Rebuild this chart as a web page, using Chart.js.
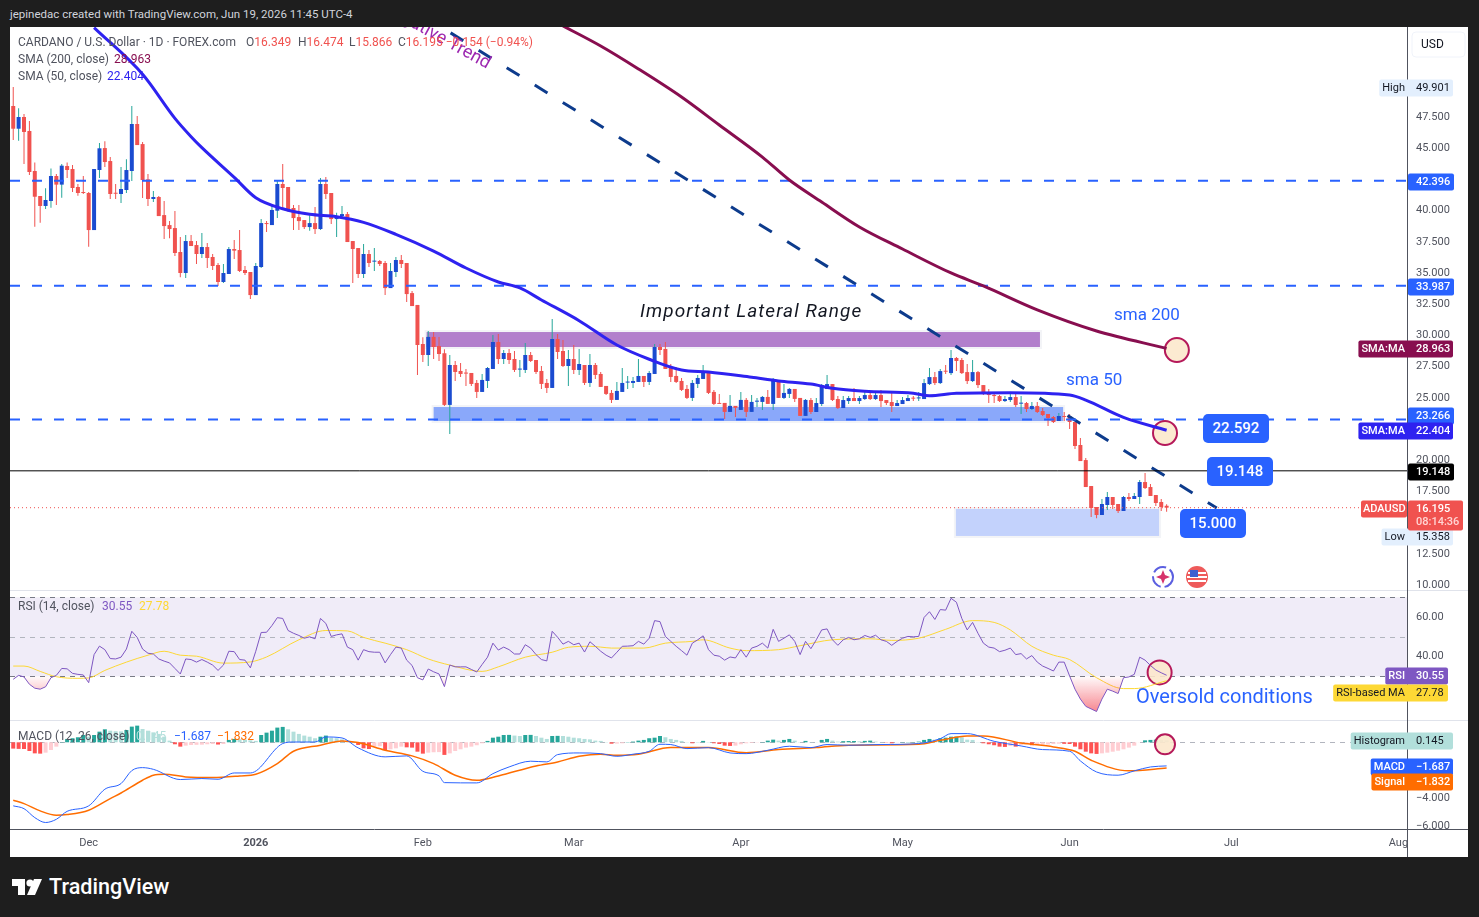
<!DOCTYPE html>
<html>
<head>
<meta charset="utf-8">
<title>ADAUSD</title>
<script src="https://cdn.jsdelivr.net/npm/chart.js@4"></script>
<style>
html, body { margin: 0; padding: 0; background: #1e1e1e; width: 1479px; height: 917px; overflow: hidden; font-family: Roboto, sans-serif; }
#panel { position: absolute; left: 10px; top: 27px; width: 1458px; height: 830px; background: #fff; }
#chart { position: absolute; left: 0; top: 0; }
.t { position: absolute; white-space: nowrap; line-height: 16px; font-size: 12px; color: #50535e; }
.note { position: absolute; white-space: nowrap; color: #2962ff; line-height: 24px; }
.badge { position: absolute; width: 66px; height: 29px; line-height: 29px; border-radius: 5px; background: #2962ff; color: #fff; font-size: 15px; font-weight: 500; text-align: center; }
.red { color: #f0524f; }
</style>
</head>
<body>
<div class="t" style="left:10px;top:6px;color:#d1d4dc;font-size:11.5px">jepinedac created with TradingView.com, Jun 19, 2026 11:45 UTC-4</div>
<div id="panel"><canvas id="chart" width="1458" height="830"></canvas></div>

<div class="t" style="left:18px;top:34px">CARDANO / U.S. Dollar · 1D · FOREX.com</div>
<div class="t" style="left:246px;top:34px">O<span class="red">16.349</span></div>
<div class="t" style="left:298px;top:34px">H<span class="red">16.474</span></div>
<div class="t" style="left:349px;top:34px">L<span class="red">15.866</span></div>
<div class="t" style="left:398px;top:34px">C<span class="red">16.195</span> <span class="red">−0.154 (−0.94%)</span></div>
<div class="t" style="left:18px;top:51px">SMA (200, close)</div>
<div class="t" style="left:114px;top:51px;color:#880e4f">28.963</div>
<div class="t" style="left:18px;top:68px">SMA (50, close)</div>
<div class="t" style="left:107px;top:68px;color:#2e22f0">22.404</div>
<div class="t" style="left:18px;top:598px">RSI (14, close)</div>
<div class="t" style="left:102px;top:598px;color:#7e57c2">30.55</div>
<div class="t" style="left:139px;top:598px;color:#fdd835">27.78</div>
<div class="t" style="left:18px;top:728px">MACD (12, 26, close)</div>
<div class="t" style="left:136px;top:728px;color:#b2dfdb">0.145</div>
<div class="t" style="left:174px;top:728px;color:#2962ff">−1.687</div>
<div class="t" style="left:217px;top:728px;color:#ff6d00">−1.832</div>

<div class="note" style="left:640px;top:299px;font-size:19px;font-style:italic;color:#131722;letter-spacing:1.05px">Important Lateral Range</div>
<div class="note" style="left:1114px;top:302px;font-size:17px">sma 200</div>
<div class="note" style="left:1066px;top:367px;font-size:17px">sma 50</div>
<div class="note" style="left:1136px;top:684px;font-size:20px">Oversold conditions</div>
<div class="badge" style="left:1203px;top:414px">22.592</div>
<div class="badge" style="left:1207px;top:457px">19.148</div>
<div class="badge" style="left:1180px;top:509px">15.000</div>

<svg style="position:absolute;left:1150px;top:564px" width="62" height="26">
  <circle cx="13" cy="13" r="10" fill="#fff" stroke="#5b5fe0" stroke-width="2" stroke-dasharray="14 4"/>
  <path d="M13 6l2 5 5 2-5 2-2 5-2-5-5-2 5-2z" fill="#d6336c"/>
  <circle cx="47" cy="13" r="11" fill="#ee5a5a"/>
  <path d="M38 9h18M37 13h20M38 17h18" stroke="#fff" stroke-width="2"/>
  <rect x="40" y="6" width="8" height="7" fill="#3d5fd0"/>
</svg>

<svg style="position:absolute;left:12px;top:879px" width="32" height="17">
  <path d="M0 0h13v16H6V7H0zM23 16l7-16h-8l-7 16z" fill="#fff"/><circle cx="18" cy="4" r="3.6" fill="#fff"/>
</svg>
<div class="t" style="left:49px;top:875px;line-height:24px;font-size:21.6px;font-weight:500;color:#fff">TradingView</div>

<script>
// ADAUSD daily candles, day 0 is Nov 17 2025
const opens = [
  48.38,46.56,47.50,46.38,43.17,41.17,40.37,40.77,42.77,42.08,
  43.57,43.33,41.89,41.49,41.41,38.44,43.25,45.01,43.97,41.41,
  41.33,41.65,43.17,46.94,45.33,42.50,40.93,41.09,39.64,38.84,
  38.60,36.68,35.00,37.56,37.24,36.52,37.08,36.28,35.64,34.28,
  34.92,36.92,36.84,35.24,35.08,33.23,35.48,39.00,38.84,39.99,
  42.13,41.89,40.21,39.48,39.24,38.68,39.00,38.52,42.13,41.41,
  39.32,39.56,39.72,37.56,37.00,34.92,36.52,35.91,35.96,35.80,
  33.79,35.08,36.04,35.80,33.39,32.44,29.31,28.43,29.88,29.15,
  28.57,24.43,27.63,27.15,26.99,26.99,26.19,25.47,26.35,27.31,
  29.47,28.11,28.59,28.11,27.26,27.23,28.43,28.03,27.15,26.19,
  25.79,29.71,28.75,27.55,28.11,27.23,27.63,26.19,27.63,26.91,
  25.95,25.39,24.83,25.47,26.22,26.19,26.27,26.75,26.27,26.91,
  29.07,28.91,27.39,26.75,26.35,25.71,24.99,26.11,26.51,27.07,
  25.47,24.56,24.59,23.87,24.35,24.03,24.83,23.87,24.69,24.67,
  25.07,24.51,26.35,24.99,25.31,25.71,24.99,23.55,24.82,23.86,
  24.50,25.70,26.10,24.90,24.18,24.74,24.98,24.74,24.90,25.22,
  24.90,25.22,24.82,24.66,24.34,24.50,24.74,24.98,24.95,24.90,
  26.10,26.66,26.18,27.14,26.98,28.19,28.03,27.06,26.34,27.06,
  26.02,25.46,25.22,25.14,24.74,24.82,25.06,24.53,24.58,24.10,
  24.34,23.94,23.70,23.46,23.14,23.51,23.54,23.06,21.22,20.01,
  17.93,16.25,15.61,16.41,17.05,16.49,15.93,17.05,16.89,17.05,
  18.25,17.85,17.21,16.65,16.349
];
const closes = [
  46.56,47.50,46.30,43.09,41.11,40.37,40.85,42.77,42.08,43.60,
  43.25,41.81,41.41,41.41,38.44,43.33,44.99,43.89,41.33,41.35,
  41.73,43.25,46.94,45.25,42.45,40.93,41.09,39.56,38.76,38.52,
  36.60,35.00,37.56,37.16,36.52,37.08,36.20,35.56,34.28,35.00,
  36.92,36.79,35.16,35.00,33.23,35.56,39.00,38.92,40.05,42.13,
  41.81,40.05,39.40,39.16,38.68,39.00,38.52,42.13,41.33,39.32,
  39.56,39.72,37.48,36.92,34.92,36.52,35.80,35.96,35.72,33.79,
  35.16,36.04,35.72,33.31,32.35,29.23,28.43,29.88,29.07,28.51,
  24.43,27.63,27.07,26.91,26.94,26.11,25.47,26.43,27.39,29.47,
  28.11,28.59,28.03,27.23,27.31,28.43,27.95,27.07,26.11,25.79,
  29.71,28.67,27.55,28.11,27.23,27.71,26.19,27.63,26.83,25.87,
  25.31,24.83,25.55,26.19,26.27,26.35,26.75,26.27,26.99,29.07,
  28.83,27.31,26.67,26.27,25.63,24.99,26.19,26.59,27.07,25.39,
  24.51,24.51,23.87,24.35,24.19,24.83,23.87,24.67,24.75,25.07,
  24.51,26.43,24.99,25.39,25.71,24.91,23.55,24.83,23.86,24.58,
  26.02,26.10,24.82,24.18,24.82,24.98,24.74,24.98,25.22,24.90,
  25.22,24.74,24.58,24.34,24.58,24.82,24.98,24.93,25.01,26.18,
  26.66,26.18,27.14,27.09,28.19,27.95,26.98,26.34,27.06,26.02,
  25.30,25.22,25.14,24.74,24.90,25.06,24.42,24.58,24.10,24.34,
  23.86,23.62,23.38,23.06,23.54,23.46,23.06,21.14,19.93,17.85,
  16.17,15.61,16.49,17.05,16.41,15.93,17.05,16.89,17.13,18.25,
  17.77,17.13,16.57,16.25,16.195
];
const highs = [
  49.90,48.19,47.74,47.18,43.86,41.17,41.78,43.38,42.93,43.73,
  43.86,43.65,42.13,42.77,41.49,43.33,45.41,45.55,44.29,42.13,
  43.49,44.11,48.38,47.58,45.49,42.93,41.57,41.17,40.77,39.16,
  39.97,37.88,38.04,38.04,37.56,38.20,37.40,36.52,35.80,35.72,
  37.08,37.64,38.44,35.56,35.08,35.80,39.32,39.16,40.53,42.45,
  43.73,41.89,40.45,40.45,39.24,39.62,40.29,42.61,42.69,41.41,
  39.83,40.37,39.89,37.56,37.00,37.32,36.84,37.00,36.04,35.96,
  35.80,36.28,36.44,35.80,33.55,32.44,29.85,30.36,30.28,29.88,
  28.89,28.43,27.95,27.79,27.31,26.99,26.43,26.91,27.47,30.04,
  30.12,28.83,28.91,28.75,28.03,29.39,28.67,28.03,27.55,26.51,
  31.32,30.12,29.63,28.83,29.23,28.91,27.63,28.51,27.79,27.07,
  25.95,25.63,26.27,27.39,26.75,26.67,28.11,26.75,27.15,29.31,
  29.31,29.47,27.71,27.47,26.59,26.03,26.43,26.83,27.63,27.15,
  25.63,25.31,24.59,25.23,24.35,25.47,24.99,25.23,24.99,25.15,
  25.63,26.59,26.43,26.11,25.79,25.71,24.99,24.91,24.98,24.98,
  26.10,26.82,26.10,25.14,25.14,25.14,25.78,25.14,25.46,25.38,
  25.38,25.62,24.82,25.46,24.82,25.06,25.22,25.14,25.46,26.50,
  27.38,27.06,27.30,27.62,28.83,28.27,28.19,27.71,28.03,27.14,
  26.02,25.70,25.30,25.22,25.14,25.30,25.38,25.14,24.66,24.66,
  24.66,24.18,23.70,23.54,23.78,23.86,23.70,23.06,21.78,20.17,
  17.93,16.25,16.89,17.45,17.05,16.49,17.13,17.37,17.37,18.41,
  18.97,18.09,17.21,16.89,16.474
];
const lows = [
  45.65,45.60,43.73,42.85,38.71,39.03,40.13,40.23,40.45,41.03,
  42.61,41.49,41.19,41.33,37.11,38.44,42.61,43.49,40.93,40.93,
  40.61,41.41,42.37,45.25,41.01,40.37,40.69,39.56,37.72,37.78,
  36.36,34.65,34.60,37.16,35.72,36.20,35.40,35.24,33.96,34.20,
  34.92,36.12,35.08,34.84,32.91,33.23,35.40,38.28,38.84,39.40,
  40.05,39.89,38.44,38.44,38.52,38.39,38.12,38.44,40.93,38.92,
  37.88,39.32,37.48,34.20,34.60,34.60,35.48,35.16,35.56,33.23,
  33.79,34.68,35.40,32.67,32.35,26.83,27.87,27.55,28.11,27.95,
  24.35,22.10,26.35,26.67,25.95,25.95,24.99,25.47,25.79,27.31,
  27.71,27.71,27.71,27.07,26.67,26.99,27.87,26.91,25.71,25.39,
  25.79,28.11,27.47,25.95,26.91,26.83,26.03,25.87,26.51,25.87,
  25.23,24.59,24.83,25.47,25.71,25.79,26.27,25.87,26.03,26.91,
  28.43,27.31,26.27,26.19,25.55,24.91,24.75,25.79,26.51,25.31,
  24.43,24.51,23.30,23.87,23.47,24.03,23.47,23.87,24.27,24.03,
  24.51,24.03,24.99,24.91,24.99,24.67,23.55,23.55,23.70,23.86,
  24.34,25.70,24.74,24.10,24.18,24.50,24.74,24.50,24.82,24.82,
  24.82,24.26,24.42,23.86,24.34,24.50,24.74,24.74,24.74,24.90,
  26.02,26.02,26.10,26.90,26.82,27.14,26.90,26.10,26.26,25.78,
  25.22,24.58,24.58,24.66,24.66,24.66,24.26,23.70,23.86,24.02,
  23.78,23.54,22.74,22.98,23.14,23.14,22.50,20.90,19.93,17.85,
  15.45,15.358,15.61,16.01,16.09,15.77,15.93,16.73,16.89,16.49,
  17.69,17.13,16.33,15.93,15.866
];

const sma200Days = [102,109,116,124,131,139,144,150,157,165,174,180,190,201,214];
const sma200Values = [54.8,53.19,51.35,49.10,46.86,44.29,42.45,40.69,38.69,36.92,35.00,33.96,32.04,30.35,28.963];
const sma50Days = [15,24,30,33,35,41,45,50,55,60,65,71,78,84,90,94,98,105,112,118,124,129,137,142,148,152,158,167,170,175,185,196,199,206,214];
const sma50Values = [54.66,50.92,47.39,45.92,45.04,42.66,41.03,40.15,39.70,39.51,39.06,38.10,36.76,35.40,34.28,33.80,32.84,31.18,29.23,28.09,27.23,27.07,26.64,26.35,26.1,25.76,25.52,25.36,25.17,25.36,25.41,25.22,24.82,23.43,22.404];

const rsiValues = [
  28.5,30.5,29.7,26.0,24.0,23.5,24.7,29.3,30.5,34.0,
  33.8,31.5,31.0,30.7,26.8,41.0,45.3,43.5,39.0,38.8,
  39.7,43.8,52.8,49.7,43.8,41.7,41.3,38.8,37.7,36.8,
  34.0,31.2,38.8,38.5,37.2,38.5,37.2,35.7,33.0,35.7,
  42.7,42.5,38.5,38.2,34.3,42.7,52.2,52.3,55.7,59.7,
  59.3,53.2,51.8,50.7,49.3,50.0,49.0,59.3,56.8,50.2,
  51.0,51.5,44.8,43.5,38.2,43.5,42.5,42.2,42.2,36.8,
  41.0,44.8,44.3,38.2,35.5,29.3,28.2,33.7,32.3,31.2,
  24.8,35.7,34.8,34.8,34.8,33.5,32.2,36.0,39.7,46.8,
  43.3,44.8,43.5,41.3,41.3,46.0,44.3,41.0,38.5,37.8,
  52.8,49.8,46.3,47.7,46.0,46.8,42.3,47.5,45.2,42.7,
  40.7,39.3,42.2,45.2,45.3,45.5,47.7,46.3,49.3,58.2,
  57.7,50.2,47.7,45.2,43.0,40.7,46.8,48.5,50.5,43.5,
  40.7,40.2,38.2,39.8,39.3,43.5,39.7,44.3,45.2,46.8,
  44.3,53.8,47.7,49.3,51.0,47.7,41.0,47.7,44.0,48.5,
  53.5,54.0,48.5,45.7,48.5,49.7,48.5,49.0,50.7,49.7,
  50.8,48.5,47.7,45.7,47.7,49.3,50.2,50.0,50.2,59.8,
  62.7,58.8,63.8,63.5,69.5,67.5,59.3,53.5,57.3,51.8,
  46.8,44.8,44.3,42.5,43.2,44.3,41.0,41.5,38.8,40.5,
  37.2,35.2,34.0,32.7,37.2,37.2,30.2,23.5,18.5,14.8,
  13.5,12.2,18.5,23.5,22.5,21.3,29.3,29.7,31.0,39.7,
  38.2,35.5,33.2,31.8,30.55
];
const rsiMaDays = [0,2,5,8,12,14,17,21,25,28,31,34,39,44,47,53,58,62,65,69,73,77,81,87,90,95,100,103,107,109,111,115,117,121,126,128,133,136,142,146,152,159,163,168,173,178,182,185,189,193,196,201,206,208,214];
const rsiMaValues = [35.2,35.2,32.5,29.8,29.0,29.2,33.0,37.2,40.7,42.7,40.7,40.2,36.7,37.3,39.8,48.5,53.2,53.0,49.7,46.8,43.5,38.8,35.7,32.5,34.8,39.7,42.2,44.7,45.2,44.8,44.3,44.3,44.3,46.8,47.7,48.5,44.3,43.0,43.5,45.5,48.5,49.0,48.2,49.3,53.8,58.2,57.3,53.5,45.2,40.7,38.5,29.3,23.8,23.8,27.78];

const macdDays = [0,2,4,6,8,10,14,17,20,22,24,26,31,35,38,41,44,50,52,56,58,61,64,69,73,76,79,80,86,89,92,96,99,101,105,109,112,115,118,120,122,125,129,133,136,140,144,148,151,155,161,168,172,174,177,182,187,191,196,198,201,205,208,211,214];
const macdValues = [-4.54,-4.74,-5.38,-5.73,-5.50,-4.93,-4.54,-3.35,-2.95,-2.02,-1.81,-1.93,-2.66,-2.59,-2.64,-2.19,-2.19,-0.09,0.02,0.02,0.38,0.31,-0.40,-1.04,-0.97,-2.07,-2.40,-2.88,-2.90,-2.24,-1.76,-1.35,-1.40,-0.88,-0.76,-0.81,-1.00,-0.85,-0.64,-0.14,-0.16,-0.45,-0.38,-0.76,-0.81,-0.57,-0.28,-0.38,-0.16,-0.21,-0.16,-0.09,0.26,0.62,0.62,0.07,-0.26,-0.52,-0.64,-1.33,-2.12,-2.35,-2.04,-1.76,-1.687];
const signalDays = [0,2,5,8,10,14,18,20,24,26,28,32,37,42,45,49,52,57,61,64,69,74,78,82,86,90,97,101,105,109,112,116,122,129,136,142,149,155,168,172,177,180,187,193,197,200,207,214];
const signalValues = [-4.14,-4.38,-4.90,-5.21,-5.16,-4.85,-4.02,-3.62,-2.71,-2.35,-2.28,-2.47,-2.52,-2.40,-2.28,-1.52,-0.64,-0.21,0.10,-0.02,-0.57,-0.97,-1.52,-2.35,-2.71,-2.40,-1.69,-1.40,-1.00,-0.85,-0.93,-0.85,-0.38,-0.38,-0.74,-0.52,-0.38,-0.21,-0.14,0.14,0.45,0.45,-0.05,-0.33,-0.64,-1.28,-2.04,-1.832];
const histValues = [
  -0.45,-0.47,-0.48,-0.62,-0.79,-0.81,-0.74,-0.55,-0.31,0.02,
  0.24,0.29,0.36,0.52,0.40,0.52,0.76,0.93,0.83,0.79,
  0.78,0.88,1.12,1.19,0.95,0.83,0.71,0.60,0.40,0.12,
  -0.14,-0.31,-0.24,-0.19,-0.18,-0.17,-0.14,-0.12,-0.16,-0.12,
  0.17,0.24,0.22,0.18,0.14,0.10,0.52,0.69,0.83,1.05,
  1.10,0.93,0.76,0.60,0.48,0.40,0.29,0.40,0.48,0.33,
  0.29,0.21,0.12,0.02,-0.19,-0.43,-0.48,-0.31,-0.28,-0.55,
  -0.50,-0.43,-0.31,-0.36,-0.38,-0.67,-0.81,-0.74,-0.71,-0.70,
  -0.90,-0.79,-0.62,-0.50,-0.38,-0.31,-0.21,-0.07,0.10,0.33,
  0.40,0.52,0.53,0.48,0.45,0.52,0.53,0.45,0.33,0.24,
  0.45,0.46,0.45,0.40,0.33,0.29,0.24,0.21,0.12,0.10,
  0.02,-0.10,-0.09,-0.07,0.02,0.05,0.12,0.17,0.29,0.33,
  0.45,0.36,0.24,0.17,0.10,0.02,-0.07,0.01,0.10,0.02,
  -0.07,-0.12,-0.24,-0.26,-0.24,-0.14,-0.07,-0.05,-0.02,0.02,
  0.12,0.19,0.12,0.17,0.24,0.12,0.02,0.10,0.02,0.01,
  0.17,0.24,0.12,0.05,0.08,0.09,0.09,0.07,0.10,0.12,
  0.05,0.01,-0.02,-0.07,-0.02,0.02,0.02,0.02,0.05,0.17,
  0.24,0.19,0.29,0.33,0.40,0.41,0.36,0.19,0.17,0.02,
  -0.07,-0.14,-0.21,-0.31,-0.33,-0.26,-0.31,-0.19,-0.14,-0.21,
  -0.19,-0.17,-0.16,-0.12,-0.10,-0.11,-0.12,-0.31,-0.50,-0.67,
  -0.79,-0.83,-0.79,-0.74,-0.67,-0.60,-0.50,-0.38,-0.24,-0.01,
  0.14,0.17,0.19,0.17,0.145
];

const monthDays = [14,45,76,104,135,165,196,226,257];
const monthLabels = ['Dec','2026','Feb','Mar','Apr','May','Jun','Jul','Aug'];
const priceTicks = [47.5,45,40,37.5,35,32.5,30,27.5,25,20,17.5,12.5,10];
const rsiTicks = [60,40];
const macdTicks = [-4,-6];

const blueLevels = [42.396,33.987,23.266];
const lastClose = 16.195, crossLevel = 19.148;
const trendDays = [77.3,223.3];
const trendValues = [55.27,16.17];
const zones = [
  {from:76.7, to:190.5, top:30.27, bottom:29.07, color:'#b27fcc'},
  {from:78, to:194.8, top:24.26, bottom:23.14, color:'#8aa8fa'},
  {from:174.9, to:212.6, top:16.09, bottom:13.93, color:'#c3d2fc'}
];
const priceMarkers = [{x:215.9,y:28.83},{x:213.7,y:22.18}];
const rsiMarker = [{x:212.7,y:32}];
const macdMarker = [{x:213.7,y:-0.14}];

const priceTags = [
  {axis:'y', value:49.901, label:'High', text:'49.901', bg:'#e3effd', fg:'#131722'},
  {axis:'y', value:42.396, text:'42.396', bg:'#2962ff', fg:'#fff'},
  {axis:'y', value:33.987, text:'33.987', bg:'#2962ff', fg:'#fff'},
  {axis:'y', value:28.963, label:'SMA:MA', text:'28.963', bg:'#880e4f', fg:'#fff'},
  {axis:'y', value:23.266, nudge:-4, text:'23.266', bg:'#2962ff', fg:'#fff'},
  {axis:'y', value:22.404, label:'SMA:MA', text:'22.404', bg:'#2e22f0', fg:'#fff'},
  {axis:'y', value:19.148, text:'19.148', bg:'#000', fg:'#fff'},
  {axis:'y', value:15.358, nudge:18, label:'Low', text:'15.358', bg:'#e3effd', fg:'#131722'},
  {axis:'yRsi', value:30.55, label:'RSI', text:'30.55', bg:'#7e57c2', fg:'#fff', w:41},
  {axis:'yRsi', value:27.78, nudge:11, label:'RSI-based MA', text:'27.78', bg:'#fdd835', fg:'#131722', w:41},
  {axis:'yMacd', value:0.145, label:'Histogram', text:'0.145', bg:'#b2dfdb', fg:'#131722'},
  {axis:'yMacd', value:-1.687, label:'MACD', text:'−1.687', bg:'#2962ff', fg:'#fff'},
  {axis:'yMacd', value:-1.832, nudge:13, label:'Signal', text:'−1.832', bg:'#ff6d00', fg:'#fff'}
];

const days = opens.map((o, i) => i);
const pts = (xs, ys) => xs.map((x, i) => ({x: x, y: ys[i]}));
const UP = '#1a4bd0', DOWN = '#f0524f', WICK_UP = '#26a69a';
const X_MIN = -0.6, X_MAX = 258.6;

const canvas = document.getElementById('chart');
const cx = canvas.getContext('2d');
const oversold = cx.createLinearGradient(0, 650, 0, 688);
oversold.addColorStop(0, 'rgba(242,54,69,0.03)');
oversold.addColorStop(1, 'rgba(242,54,69,0.65)');

function level(value, color, width, dash) {
  return {type:'line', data:pts([X_MIN, X_MAX], [value, value]), borderColor:color, borderWidth:width, borderDash:dash, pointRadius:0, order:2};
}
function curve(xs, ys, axis, color, width, order) {
  return {type:'line', data:pts(xs, ys), yAxisID:axis, borderColor:color, borderWidth:width, pointRadius:0, cubicInterpolationMode:'monotone', order:order};
}
function marker(data, axis, radius) {
  return {type:'scatter', data:data, yAxisID:axis, pointRadius:radius, pointBackgroundColor:'rgba(252,232,204,0.9)', pointBorderColor:'#b5195a', pointBorderWidth:2, order:1.5};
}

// bands and dashed guide lines under the datasets
const backdrop = {
  id:'backdrop',
  beforeDatasetsDraw(chart) {
    const c = chart.ctx, x = chart.scales.x, y = chart.scales.y, r = chart.scales.yRsi, m = chart.scales.yMacd;
    const a = chart.chartArea;
    c.save();
    zones.forEach(z => {
      const x0 = x.getPixelForValue(z.from), x1 = x.getPixelForValue(z.to);
      const y0 = y.getPixelForValue(z.top), y1 = y.getPixelForValue(z.bottom);
      c.fillStyle = '#f3f4f7';
      c.fillRect(x0 - 2, y0 - 2, x1 - x0 + 4, y1 - y0 + 4);
      c.fillStyle = z.color;
      c.fillRect(x0, y0, x1 - x0, y1 - y0);
    });
    c.fillStyle = '#f0ecf8';
    c.fillRect(a.left, r.getPixelForValue(70), a.width, r.getPixelForValue(30) - r.getPixelForValue(70));
    c.lineWidth = 1;
    c.setLineDash([5, 5]);
    [[r, 70, '#787b86'], [r, 50, '#b2b5be'], [r, 30, '#787b86'], [m, 0, '#b2b5be']].forEach(g => {
      const py = Math.round(g[0].getPixelForValue(g[1])) + 0.5;
      c.strokeStyle = g[2];
      c.beginPath(); c.moveTo(a.left, py); c.lineTo(a.right, py); c.stroke();
    });
    c.restore();
  }
};

// axis frame, price tags and the rotated trend note
const overlay = {
  id:'overlay',
  afterDraw(chart) {
    const c = chart.ctx, a = chart.chartArea, s = chart.scales;
    c.save();
    c.beginPath(); c.rect(a.left, a.top, a.width, a.height); c.clip();
    c.translate(479, 38);
    c.rotate(29 * Math.PI / 180);
    c.font = '18px Roboto';
    c.fillStyle = '#9c27b0';
    c.textAlign = 'right';
    c.textBaseline = 'middle';
    c.fillText('Negative Trend', 0, 0);
    c.restore();

    c.save();
    c.strokeStyle = '#e0e3eb';
    c.lineWidth = 1;
    [s.yRsi.top, s.yMacd.top].forEach(py => {
      c.beginPath(); c.moveTo(0, Math.round(py) + 0.5); c.lineTo(1458, Math.round(py) + 0.5); c.stroke();
    });
    c.strokeStyle = '#50535e';
    c.beginPath(); c.moveTo(0, a.bottom + 0.5); c.lineTo(1458, a.bottom + 0.5); c.stroke();
    c.beginPath(); c.moveTo(a.right + 0.5, 0); c.lineTo(a.right + 0.5, 830); c.stroke();

    // USD button
    c.strokeStyle = '#f0f3fa';
    c.beginPath(); c.roundRect(a.right + 5, 5, 53, 25, 4); c.stroke();
    c.fillStyle = '#131722';
    c.font = '12px Roboto';
    c.textBaseline = 'middle';
    c.fillText('USD', a.right + 14, 18);

    priceTags.forEach(t => {
      const py = Math.round(s[t.axis].getPixelForValue(t.value) + (t.nudge || 0)) + 1;
      const w = t.w || 46;
      c.font = (t.fg === '#fff' ? '500 ' : '') + '11px Roboto';
      c.fillStyle = t.bg;
      if (t.label) {
        const lw = c.measureText(t.label).width + 4;
        c.beginPath(); c.roundRect(a.right - lw - 1, py - 8.5, lw + w + 1, 17, 2); c.fill();
        c.fillStyle = t.fg;
        c.fillText(t.label, a.right - lw + 2, py + 0.5);
      } else {
        c.beginPath(); c.roundRect(a.right + 1, py - 8.5, w, 17, 2); c.fill();
      }
      c.fillStyle = t.fg;
      c.fillText(t.text, a.right + 9, py + 0.5);
    });

    // last price block with countdown
    const py = Math.round(s.y.getPixelForValue(lastClose)) + 1;
    c.font = '500 11px Roboto';
    c.fillStyle = DOWN;
    c.beginPath(); c.roundRect(a.right - 46, py - 8.5, 46, 17, 2); c.fill();
    c.beginPath(); c.roundRect(a.right + 1, py - 8.5, 55, 30, 2); c.fill();
    c.fillStyle = '#fff';
    c.fillText('ADAUSD', a.right - 44, py + 0.5);
    c.fillText('16.195', a.right + 9, py + 0.5);
    c.fillStyle = '#ffd5d3';
    c.fillText('08:14:36', a.right + 9, py + 13.5);
    c.restore();
  }
};

const noPadding = scale => { scale.paddingTop = 0; scale.paddingBottom = 0; scale.paddingLeft = 0; scale.paddingRight = 0; };

const sideAxis = (stackWeight, weight, min, max, tickValues, decimals) => ({
  type:'linear', position:'right', stack:'panes', stackWeight:stackWeight, weight:weight, min:min, max:max,
  grid:{display:false, drawTicks:false},
  border:{display:false},
  afterFit(scale) { scale.width = 61; noPadding(scale); },
  afterBuildTicks(scale) { scale.ticks = tickValues.map(v => ({value:v})); },
  ticks:{
    autoSkip:false, crossAlign:'near', padding:9, color:'#50535e', font:{family:'Roboto', size:11},
    callback: v => v.toFixed(decimals).replace('-', '−')
  }
});

new Chart(canvas, {
  data:{
    datasets:[
      {type:'bar', data:days.map(i => ({x:i, y:[opens[i], closes[i]]})), barThickness:4, grouped:false, minBarLength:1, inflateAmount:0,
        backgroundColor:days.map(i => closes[i] >= opens[i] ? UP : DOWN), order:4},
      {type:'bar', data:days.map(i => ({x:i, y:[lows[i], highs[i]]})), barThickness:1, grouped:false, inflateAmount:0,
        backgroundColor:days.map(i => closes[i] >= opens[i] ? WICK_UP : DOWN), order:5},
      level(blueLevels[0], '#2962ff', 2, [10,12]),
      level(blueLevels[1], '#2962ff', 2, [10,12]),
      level(blueLevels[2], '#2962ff', 2, [10,12]),
      level(crossLevel, '#000', 1, []),
      level(lastClose, '#f0524f', 1, [1,3]),
      {type:'line', data:pts(trendDays, trendValues), borderColor:'#0d3b8c', borderWidth:3, borderDash:[15,18], borderDashOffset:8.6, pointRadius:0, order:2},
      marker(priceMarkers, 'y', 12),
      curve(sma200Days, sma200Values, 'y', '#880e4f', 3, 1),
      curve(sma50Days, sma50Values, 'y', '#2e22f0', 3, 1),
      {type:'line', data:pts(days, rsiValues), yAxisID:'yRsi', borderColor:'#7e57c2', borderWidth:1, pointRadius:0,
        fill:{target:{value:30}, below:oversold, above:'transparent'}, order:1},
      curve(rsiMaDays, rsiMaValues, 'yRsi', '#fdd835', 1, 1),
      marker(rsiMarker, 'yRsi', 12),
      {type:'bar', yAxisID:'yMacd', data:pts(days, histValues), barThickness:4, grouped:false, inflateAmount:0,
        backgroundColor:days.map(i => {
          const v = histValues[i], prev = i ? histValues[i - 1] : 0;
          if (v >= 0) return v >= prev ? '#26a69a' : '#b2dfdb';
          return v <= prev ? '#ff5252' : '#ffcdd2';
        }), order:3},
      curve(macdDays, macdValues, 'yMacd', '#2962ff', 1, 1),
      curve(signalDays, signalValues, 'yMacd', '#ff6d00', 1.5, 1),
      marker(macdMarker, 'yMacd', 10)
    ]
  },
  options:{
    responsive:false,
    animation:false,
    layout:{padding:0, autoPadding:false},
    plugins:{legend:{display:false}, tooltip:{enabled:false}},
    scales:{
      x:{
        type:'linear', min:X_MIN, max:X_MAX, offset:false,
        grid:{display:false, drawTicks:false},
        border:{display:false},
        afterFit(scale) { scale.height = 28; noPadding(scale); },
        afterBuildTicks(scale) { scale.ticks = monthDays.map(v => ({value:v})); },
        ticks:{
          autoSkip:false, maxRotation:0, padding:8, color:'#50535e',
          font:c => ({family:'Roboto', size:11, weight:c.index === 1 ? 'bold' : 'normal'}),
          callback:(v, i) => monthLabels[i]
        }
      },
      y:sideAxis(563, 1, 9.6, 54.71, priceTicks, 3),
      yRsi:sideAxis(130, 2, 7.9, 73.7, rsiTicks, 2),
      yMacd:sideAxis(109, 3, -6.193, 1.593, macdTicks, 3)
    }
  },
  plugins:[backdrop, overlay]
});
</script>
</body>
</html>
